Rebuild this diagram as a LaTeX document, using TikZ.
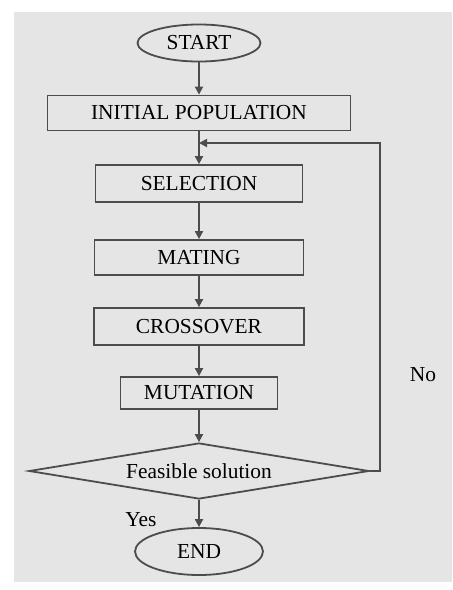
\documentclass[tikz,border=0pt]{standalone}
\usepackage{fontspec}
\setmainfont{Liberation Serif}
\usetikzlibrary{shapes.geometric,arrows.meta}

\tikzset{
  stepbox/.style={draw=black!70, line width=0.9pt, inner sep=0pt, font=\fontsize{10.7}{12}\selectfont},
  term/.style={stepbox, ellipse},
  decision/.style={stepbox, diamond, aspect=6},
  flow/.style={draw=black!70, line width=0.9pt, -{Triangle[length=4pt,width=4pt]}},
  lbl/.style={font=\fontsize{10.7}{12}\selectfont}
}

\begin{document}
\begin{tikzpicture}[x=0.5pt, y=-0.5pt]
    % background
    \fill[black!10] (14,12) rectangle (452,582);
    \useasboundingbox (0,0) rectangle (452,590);

    \node[term, minimum width=61.5pt, minimum height=18.5pt] (start) at (199,43) {START};
    \node[stepbox, minimum width=151.5pt, minimum height=17.5pt] (init) at (199,113) {INITIAL POPULATION};
    \node[stepbox, minimum width=103.5pt, minimum height=18.5pt] (sel) at (199,183.5) {SELECTION};
    \node[stepbox, minimum width=104.5pt, minimum height=17.5pt] (mat) at (199,257.5) {MATING};
    \node[stepbox, minimum width=105pt, minimum height=18.5pt] (cross) at (199,326.5) {CROSSOVER};
    \node[stepbox, minimum width=78.5pt, minimum height=16pt] (mut) at (199,393) {MUTATION};
    \node[decision, minimum width=170pt, minimum height=28pt] (dec) at (199,471) {Feasible solution};
    \node[term, minimum width=64pt, minimum height=23.5pt] (end) at (199,551.5) {END};

    \coordinate (join) at (199,143);
    \coordinate (back) at (380,143);

    % main flow
    \draw[flow] (start) -- (init);
    \draw[flow] (init) -- (sel);
    \draw[flow] (sel) -- (mat);
    \draw[flow] (mat) -- (cross);
    \draw[flow] (cross) -- (mut);
    \draw[flow] (mut) -- (dec);
    \draw[flow] (dec) -- (end);

    % loop back when not feasible
    \draw[flow] (dec.east) -| (back) -- (join);

    \node[lbl] (no) at (423,375) {No};
    \node[lbl] (yes) at (141,520) {Yes};
\end{tikzpicture}
\end{document}
